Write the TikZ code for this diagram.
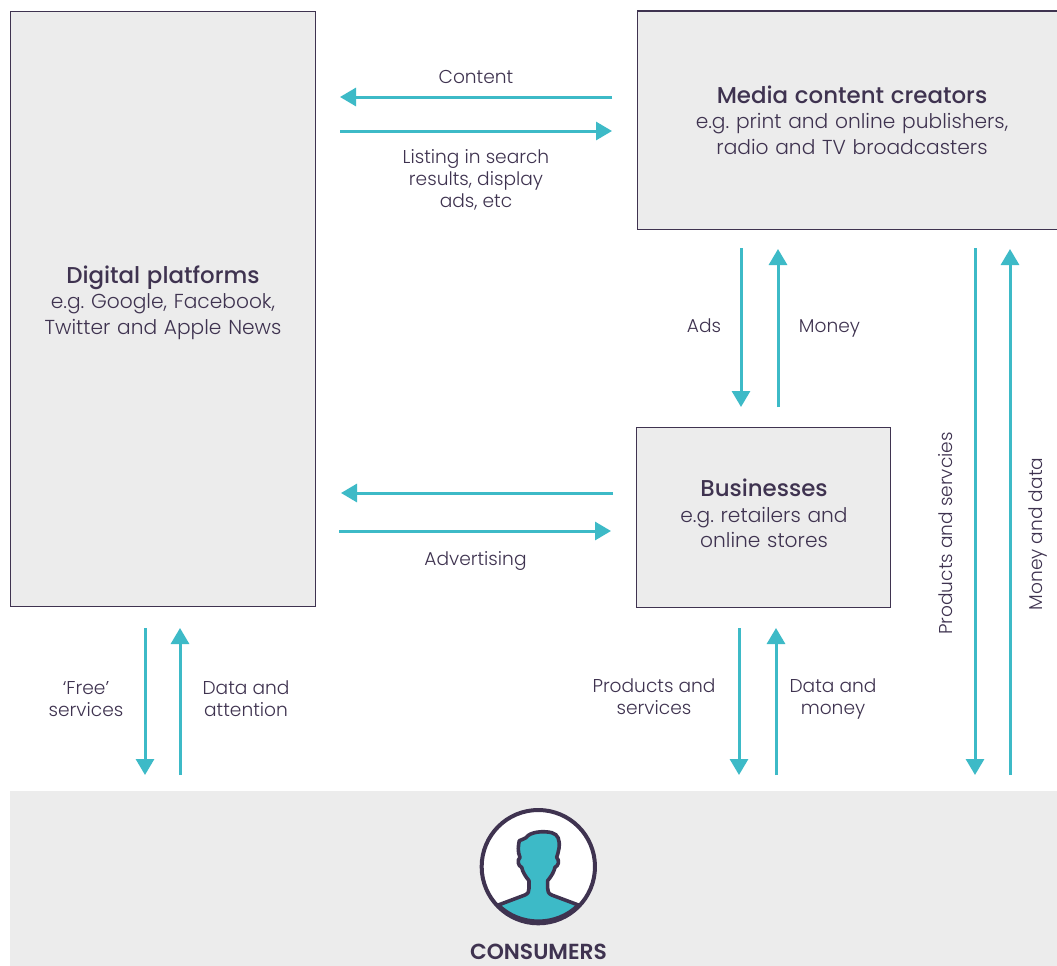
\documentclass[tikz,border=0pt]{standalone}
\usepackage{fontspec}
\setmainfont{Poppins}[UprightFont=* Light,BoldFont=* Medium]
\newfontfamily\capsfont{Poppins SemiBold}
\usetikzlibrary{arrows.meta}
\definecolor{ink}{HTML}{3F3350}
\definecolor{teal}{HTML}{3DBAC7}
\definecolor{pale}{HTML}{ECECEC}
\newcommand{\panelhead}[1]{{\fontsize{22.9}{26}\selectfont\bfseries #1}}
\tikzset{
 x=1pt,y=-1pt,
 panel/.style={draw=ink,line width=1.1pt,fill=pale,inner sep=0pt},
 flow/.style={draw=teal,line width=3pt,-{Triangle[length=16pt,width=18pt]}},
 lbl/.style={text=ink,font=\frenchspacing\fontsize{18.6}{22}\selectfont,align=center,inner sep=0pt},
 ptxt/.style={text=ink,font=\frenchspacing\fontsize{20.2}{25.4}\selectfont,align=center,inner sep=0pt},
}
\begin{document}
\begin{tikzpicture}
\useasboundingbox (0,0) rectangle (1057,966);
\fill[white] (0,0) rectangle (1057,966);
\node[panel,anchor=north west,minimum width=305pt,minimum height=595pt] (dp) at (10,10.6) {};
\fill[pale] (637.4,11) rectangle (1057,229.5);
\draw[ink,line width=1.1pt] (1057,11) -- (637.4,11) -- (637.4,229.5) -- (1057,229.5);
\coordinate (mc) at (847,120);
\node[panel,anchor=north west,minimum width=254pt,minimum height=180pt] (bz) at (636.2,427) {};
\fill[pale] (10,791) rectangle (1057,966);
\coordinate (cs) at (538,867);
% panel texts
\node[ptxt,text width=300pt] (t1) at (163,302.5) {\panelhead{Digital platforms}\\e.g. Google, Facebook,\\Twitter and Apple News};
\node[ptxt,text width=400pt] (t2) at (852,120) {\panelhead{Media content creators}\\e.g. print and online publishers,\\radio and TV broadcasters};
\node[ptxt,text width=250pt] (t3) at (764,513.5) {\panelhead{Businesses}\\e.g. retailers and\\online stores};
\node[text=ink,font=\capsfont\fontsize{21.8}{22}\selectfont,inner sep=0pt] (t4) at (538.5,952) {CONSUMERS};
% free ends
\foreach \n/\x/\y in {a1/612/97,a2/340/97,b1/340/131,b2/612/131,
 c1/741/248,c2/741/407,d1/778/407,d2/778/249,
 e1/975/248,e2/975/775,f1/1010/775,f2/1010/249,
 g1/613/493,g2/341/493,h1/339/531,h2/611/531,
 i1/145/628,i2/145/775,j1/180/775,j2/180/628,
 k1/739/628,k2/739/775,l1/776/775,l2/776/628}
 {\coordinate (\n) at (\x,\y);}
\foreach \s/\e in {a1/a2,b1/b2,c1/c2,d1/d2,e1/e2,f1/f2,g1/g2,h1/h2,i1/i2,j1/j2,k1/k2,l1/l2}
 {\draw[flow] (\s) -- (\e);}
% labels
\node[lbl] (la) at (476,77) {Content};
\node[lbl] (lb) at (476,179.5) {Listing in search\\results, display\\ads, etc};
\node[lbl] (lc) at (704,326) {Ads};
\node[lbl] (ld) at (829.5,328) {Money};
\node[lbl] (le) at (475.5,560.5) {Advertising};
\node[lbl] (lf) at (86,699) {‘Free’\\services};
\node[lbl] (lg) at (246,699) {Data and\\attention};
\node[lbl] (lh) at (654,697) {Products and\\services};
\node[lbl] (li) at (833,698.5) {Data and\\money};
\node[lbl,rotate=90] (lj) at (946,533.5) {Products and servcies};
\node[lbl,rotate=90] (lk) at (1037.5,534) {Money and data};
% consumer icon
\begin{scope}[shift={(440,790)},x=0.3333pt,y=-0.3333pt]
 \fill[white] (295,230) circle (170);
 \fill[teal,draw=ink,line width=3.6pt,line join=round]
  (175,345) -- (255,315) .. controls (265,310) and (267,305) .. (267,295)
  -- (267,272) .. controls (255,258) and (248,245) .. (245,232)
  .. controls (235,228) and (230,212) .. (240,202)
  .. controls (232,185) and (235,165) .. (238,152)
  .. controls (245,148) and (252,148) .. (258,143)
  .. controls (270,125) and (310,122) .. (335,128)
  .. controls (355,133) and (360,150) .. (357,175)
  .. controls (356,185) and (352,195) .. (350,202)
  .. controls (360,212) and (355,228) .. (345,232)
  .. controls (342,245) and (335,258) .. (323,272)
  -- (323,295) .. controls (323,305) and (325,310) .. (335,315)
  -- (415,345) .. controls (350,410) and (240,410) .. (175,345) -- cycle;
 \draw[ink,line width=4pt] (295,230) circle (170);
\end{scope}
\end{tikzpicture}
\end{document}
